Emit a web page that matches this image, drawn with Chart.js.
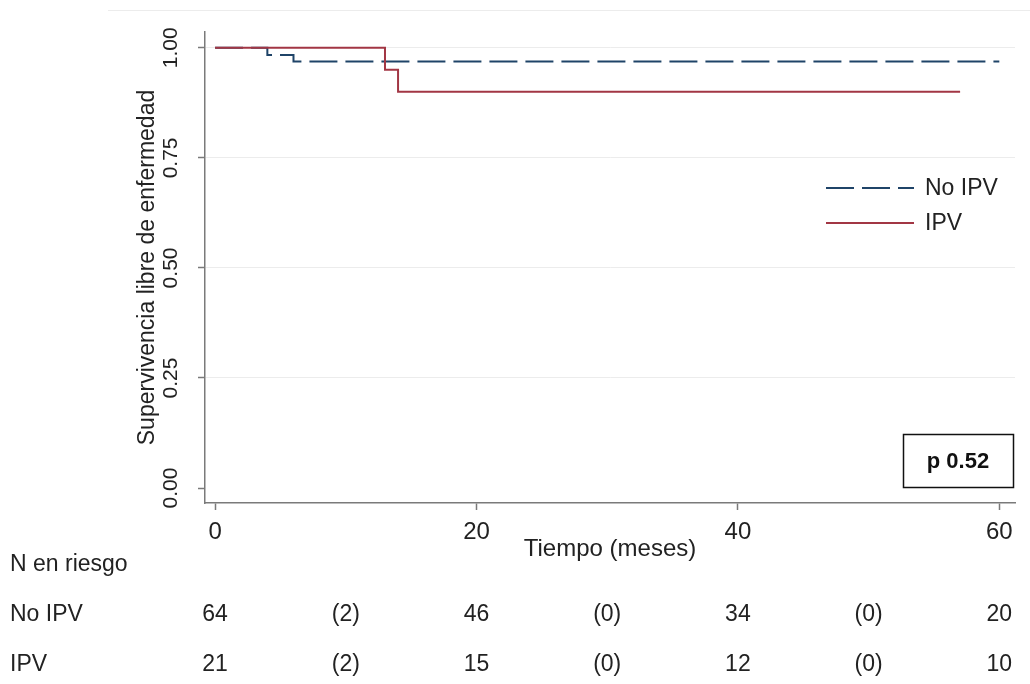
<!DOCTYPE html>
<html>
<head>
<meta charset="utf-8">
<script src="https://cdn.jsdelivr.net/npm/chart.js@4.4.1/dist/chart.umd.min.js"></script>
<style>
  html, body { margin: 0; padding: 0; background: #fff; }
  canvas { display: block; }
</style>
</head>
<body>
<canvas id="km" width="1030" height="684"></canvas>
<script>
// Kaplan-Meier steps
const timeNoIPV = [0, 4, 6, 60];
const survNoIPV = [1.0, 0.984, 0.969, 0.969];
const timeIPV = [0, 13, 14, 57];
const survIPV = [1.0, 0.95, 0.90, 0.90];

const xTicks = [0, 20, 40, 60];
const yTicks = [0, 0.25, 0.5, 0.75, 1];

// numbers at risk (censored in brackets)
const riskTimes = [0, 10, 20, 30, 40, 50, 60];
const riskNoIPV = ['64', '(2)', '46', '(0)', '34', '(0)', '20'];
const riskIPV = ['21', '(2)', '15', '(0)', '12', '(0)', '10'];

const pText = 'p 0.52';

const NAVY = '#1f4468';
const MAROON = '#a23644';
const AXIS = '#7a7a7a';
const FONT = "'Liberation Sans', Arial, sans-serif";

function pts(xs, ys) {
    return xs.map((x, i) => ({ x: x, y: ys[i] }));
}

const extras = {
    id: 'extras',
    afterDraw(chart) {
        const ctx = chart.ctx;
        const xs = chart.scales.x;
        ctx.save();

        // faint frame line at the top
        ctx.strokeStyle = '#ececec';
        ctx.lineWidth = 1;
        ctx.beginPath();
        ctx.moveTo(108, 10.5);
        ctx.lineTo(1030, 10.5);
        ctx.stroke();

        // legend
        const ds = chart.data.datasets;
        const rows = [ds[1], ds[0]];
        ctx.font = '23px ' + FONT;
        ctx.textBaseline = 'middle';
        ctx.textAlign = 'left';
        rows.forEach((d, i) => {
            const y = 188 + i * 35;
            ctx.strokeStyle = d.borderColor;
            ctx.lineWidth = 2;
            ctx.setLineDash(d.borderDash || []);
            ctx.beginPath();
            ctx.moveTo(826, y);
            ctx.lineTo(914, y);
            ctx.stroke();
            ctx.setLineDash([]);
            ctx.fillStyle = '#222';
            ctx.fillText(d.label, 925, y + 1);
        });

        // p value box
        ctx.strokeStyle = '#111';
        ctx.lineWidth = 1.5;
        ctx.strokeRect(903.5, 434.5, 110, 53);
        ctx.font = 'bold 22px ' + FONT;
        ctx.textAlign = 'center';
        ctx.fillStyle = '#111';
        ctx.fillText(pText, 958, 462);

        // number at risk table
        ctx.font = '23px ' + FONT;
        ctx.fillStyle = '#222';
        ctx.textAlign = 'left';
        ctx.fillText('N en riesgo', 10, 565);
        ctx.fillText('No IPV', 10, 615);
        ctx.fillText('IPV', 10, 665);
        ctx.textAlign = 'center';
        riskTimes.forEach((t, i) => {
            const px = xs.getPixelForValue(t);
            ctx.fillText(riskNoIPV[i], px, 615);
            ctx.fillText(riskIPV[i], px, 665);
        });
        ctx.restore();
    }
};

new Chart(document.getElementById('km'), {
    type: 'line',
    data: {
        datasets: [
            { label: 'IPV', data: pts(timeIPV, survIPV), borderColor: MAROON, borderWidth: 2, stepped: 'before', pointRadius: 0, fill: false, order: 0 },
            { label: 'No IPV', data: pts(timeNoIPV, survNoIPV), borderColor: NAVY, borderWidth: 2, borderDash: [28, 8], stepped: 'before', pointRadius: 0, fill: false, order: 1 }
        ]
    },
    options: {
        responsive: false,
        animation: false,
        layout: { padding: { left: 134, top: 32, right: 15, bottom: 120 } },
        plugins: { legend: { display: false }, tooltip: { enabled: false } },
        scales: {
            x: {
                type: 'linear',
                min: -0.77,
                max: 61.2,
                afterBuildTicks: (s) => { s.ticks = xTicks.map(v => ({ value: v })); },
                afterFit: (s) => { s.height = 61; },
                border: { display: true, color: AXIS, width: 1.5 },
                grid: { drawOnChartArea: false, drawTicks: true, tickLength: 7, tickColor: AXIS, tickWidth: 1.5 },
                ticks: { color: '#222', font: { family: FONT, size: 24 }, padding: 8, maxRotation: 0 },
                title: { display: true, text: 'Tiempo (meses)', color: '#222', font: { family: FONT, size: 24 }, padding: 0 }
            },
            y: {
                type: 'linear',
                min: -0.034,
                max: 1.036,
                afterBuildTicks: (s) => { s.ticks = yTicks.map(v => ({ value: v })); },
                afterFit: (s) => { s.width = 71; },
                border: { display: true, color: AXIS, width: 1.5 },
                grid: {
                    color: (c) => (c.tick && c.tick.value === 0) ? 'rgba(0,0,0,0)' : '#ececec',
                    lineWidth: 1,
                    tickLength: 7,
                    tickColor: AXIS,
                    tickWidth: 1.5
                },
                ticks: {
                    color: '#222',
                    font: { family: FONT, size: 21 },
                    padding: 6,
                    minRotation: 90,
                    maxRotation: 90,
                    crossAlign: 'center',
                    callback: (v) => v.toFixed(2)
                },
                title: { display: true, text: 'Supervivencia libre de enfermedad', color: '#222', font: { family: FONT, size: 23 }, padding: 0 }
            }
        }
    },
    plugins: [extras]
});
</script>
</body>
</html>
